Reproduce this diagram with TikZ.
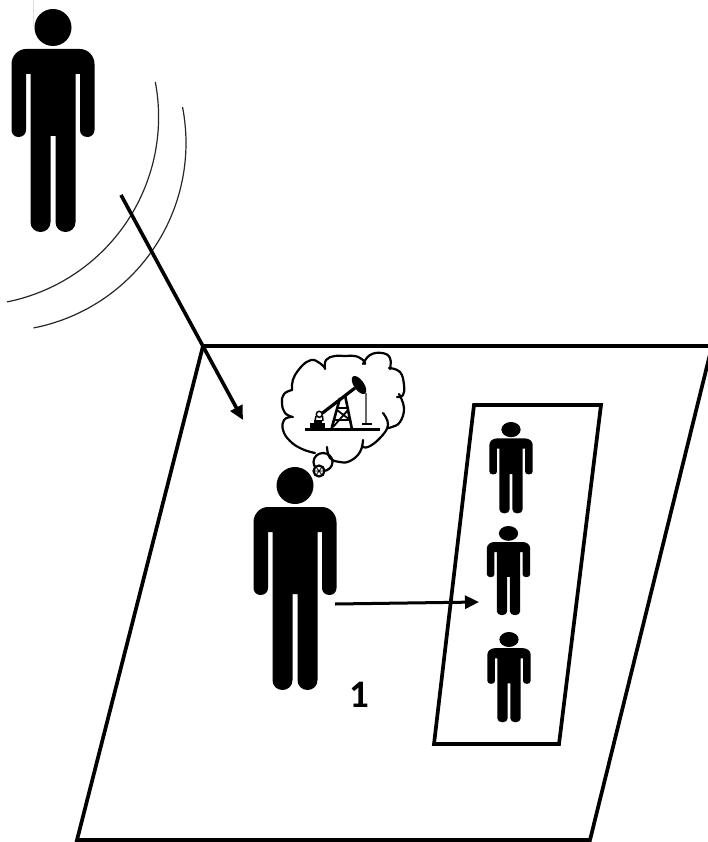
\documentclass[tikz,border=0pt]{standalone}
\usepackage{fontspec}
\setmainfont{Carlito}
\usetikzlibrary{arrows.meta}
\tikzset{
  x=1pt,y=-1pt,
  frameline/.style={draw=black,line width=3.7pt,line join=miter},
  conn/.style={draw=black,line width=3.6pt,-{Triangle[length=14pt,width=13pt]}},
  wave/.style={draw=black!85,line width=1.2pt},
  cloudline/.style={draw=black,line width=2.2pt,line cap=round},
  lobe/.style={cloudline,smooth,tension=0.75},
  person/.pic={
    \fill[black] (0,18.5) circle[x radius=18.5,y radius=18.5];
    \fill[black] (-27,40) -- (27,40)
      .. controls (35,40) and (41.5,47) .. (41.5,55) -- (41.5,121)
      .. controls (41.5,125) and (38.5,128) .. (34.5,128)
      .. controls (30,128) and (27,125) .. (27,121) -- (27,65) -- (22.5,65) -- (22.5,213)
      .. controls (22.5,219) and (18,223) .. (12.5,223)
      .. controls (7,223) and (2.5,219) .. (2.5,213) -- (2.5,127) -- (-2.5,127) -- (-2.5,213)
      .. controls (-2.5,219) and (-7,223) .. (-12.5,223)
      .. controls (-18,223) and (-22.5,219) .. (-22.5,213) -- (-22.5,65) -- (-27,65) -- (-27,121)
      .. controls (-27,125) and (-30,128) .. (-34.5,128)
      .. controls (-38.5,128) and (-41.5,125) .. (-41.5,121) -- (-41.5,55)
      .. controls (-41.5,47) and (-35,40) .. (-27,40) -- cycle;
  }
}
\begin{document}
\begin{tikzpicture}
\useasboundingbox (0,0) rectangle (707,842);
% faint artefact
\draw[black!12,line width=0.5pt] (33,0) -- (33,26);
% people
\pic at (53,9) {person};
\pic at (295,467) {person};
\pic[xscale=0.52,yscale=0.41] at (511,422) {person};
\pic[xscale=0.52,yscale=0.40] at (508.5,526) {person};
\pic[xscale=0.52,yscale=0.405] at (509,632) {person};
% waves
\draw[wave] plot[domain=-10.7:78.7,samples=70] ({-30+188.6*cos(\x)},{117+188.6*sin(\x)});
\draw[wave] plot[domain=-11:79,samples=70] ({-2.4+188.4*cos(\x)},{143+188.4*sin(\x)});
% frames
\draw[frameline] (203,346) -- (712,346) -- (590,840) -- (77,840) -- cycle;
\draw[frameline] (474,405) -- (601,405) -- (559,744) -- (434,744) -- cycle;
% connectors
\coordinate (a1) at (121,195);
\coordinate (a2) at (243,420);
\coordinate (b1) at (335,604);
\coordinate (b2) at (479,602);
\draw[conn] (a1) -- (a2);
\draw[conn,line width=3pt] (b1) -- (b2);
\node[font=\bfseries\fontsize{39}{39}\selectfont,inner sep=0pt] (one) at (359.5,695) {1};
% thought cloud
\draw[lobe] plot coordinates {(325,369) (326,360) (335,356) (345,356) (355,356) (363,360) (365,364)};
\draw[lobe] plot coordinates {(363,364) (370,355) (382,353) (390,358) (390,369)};
\draw[lobe] plot coordinates {(389,368) (400,372) (404,385) (403,395) (397,397)};
\draw[lobe] plot coordinates {(399,394) (404,408) (400,422) (392,427) (388,428)};
\draw[lobe] plot coordinates {(383,413) (388,425) (380,438) (368,447) (362,446)};
\draw[lobe] plot coordinates {(363,440) (360,452) (350,461) (340,462) (330,458) (327,447)};
\draw[lobe] plot coordinates {(291,417) (284,420) (283,430) (290,441) (302,449) (315,453)};
\draw[lobe] plot coordinates {(292,390) (284,394) (282,403) (285,413) (293,417)};
\draw[lobe] plot coordinates {(292,390) (295,375) (311,360) (325,368)};
\draw[cloudline] (323,462) ellipse[x radius=9.5,y radius=9];
\draw[cloudline,fill=white] (319,471) circle[radius=5.5];
\draw[line width=0.8pt] (314,471) -- (324,471) (316,467) -- (322,475) (322,467) -- (316,475);
% pump
\draw[line width=3pt] (305,429.5) -- (380,429.5);
\fill (310,423) rectangle (325,428);
\fill (313.5,420) rectangle (321.5,424);
\draw[line width=1.5pt] (319.3,414.3) circle[radius=3];
\draw[line width=1.5pt] (316,416) -- (315,421) (322.5,416) -- (323,421);
\draw[line width=3.2pt] (322.5,413) -- (355,388);
\fill[rotate around={-55:(359,385)}] (359,385) ellipse[x radius=10.5,y radius=5];
\draw[line width=1.6pt,black!60] (365.7,393) -- (365.7,423);
\fill (362,423) rectangle (372,425);
\draw[line width=2.6pt] (331.7,428) -- (340,398) (351.7,428) -- (345,395);
\draw[line width=1.8pt] (338,408) -- (348,408) (335,420) -- (350,420) (337,410) -- (350,420) (348,410) -- (333,427);
\end{tikzpicture}
\end{document}
